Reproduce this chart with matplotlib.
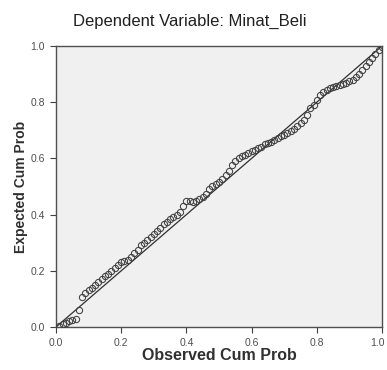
import matplotlib
matplotlib.use("Agg")
from matplotlib import pyplot as plt
from matplotlib import transforms

# P-P plot of regression standardized residuals
observed_cum_prob = [
    0.01, 0.02, 0.03, 0.04, 0.05, 0.06, 0.07, 0.08, 0.09, 0.10,
    0.11, 0.12, 0.13, 0.14, 0.15, 0.16, 0.17, 0.18, 0.19, 0.20,
    0.21, 0.22, 0.23, 0.24, 0.25, 0.26, 0.27, 0.28, 0.29, 0.30,
    0.31, 0.32, 0.33, 0.34, 0.35, 0.36, 0.37, 0.38, 0.39, 0.40,
    0.41, 0.42, 0.43, 0.44, 0.45, 0.46, 0.47, 0.48, 0.49, 0.50,
    0.51, 0.52, 0.53, 0.54, 0.55, 0.56, 0.57, 0.58, 0.59, 0.60,
    0.61, 0.62, 0.63, 0.64, 0.65, 0.66, 0.67, 0.68, 0.69, 0.70,
    0.71, 0.72, 0.73, 0.74, 0.75, 0.76, 0.77, 0.78, 0.79, 0.80,
    0.81, 0.82, 0.83, 0.84, 0.85, 0.86, 0.87, 0.88, 0.89, 0.90,
    0.91, 0.92, 0.93, 0.94, 0.95, 0.96, 0.97, 0.98, 0.99, 1.00,
]
expected_cum_prob = [
    0.005, 0.010, 0.015, 0.020, 0.025, 0.030, 0.060, 0.105, 0.120, 0.130,
    0.138, 0.148, 0.160, 0.170, 0.180, 0.188, 0.198, 0.210, 0.222, 0.230,
    0.234, 0.240, 0.250, 0.262, 0.275, 0.292, 0.300, 0.310, 0.320, 0.330,
    0.340, 0.352, 0.365, 0.375, 0.385, 0.392, 0.400, 0.410, 0.430, 0.450,
    0.447, 0.445, 0.448, 0.455, 0.463, 0.475, 0.490, 0.500, 0.508, 0.515,
    0.525, 0.540, 0.555, 0.575, 0.590, 0.600, 0.607, 0.612, 0.618, 0.625,
    0.630, 0.636, 0.642, 0.650, 0.655, 0.660, 0.667, 0.673, 0.678, 0.685,
    0.690, 0.697, 0.705, 0.715, 0.725, 0.735, 0.755, 0.778, 0.790, 0.808,
    0.825, 0.835, 0.843, 0.850, 0.853, 0.857, 0.861, 0.865, 0.870, 0.875,
    0.880, 0.890, 0.902, 0.915, 0.928, 0.942, 0.958, 0.972, 0.985, 0.995,
]
tick_values = [0.0, 0.2, 0.4, 0.6, 0.8, 1.0]
tick_labels = ["0.0", "0.2", "0.4", "0.6", "0.8", "1.0"]

plt.rcParams["font.family"] = ["Liberation Sans", "DejaVu Sans"]

fig = plt.figure(figsize=(3.87, 3.70), dpi=100)
fig.patch.set_facecolor("white")
ax = fig.add_axes([0.1447, 0.1162, 0.8424, 0.7595])
ax.set_facecolor("#f0f0f0")

# reference diagonal
ax.plot([0, 1], [0, 1], color="#303030", lw=0.9, zorder=2)
ax.plot(observed_cum_prob, expected_cum_prob, linestyle="none", marker="o",
        markersize=4.5, markerfacecolor="none", markeredgecolor="#404040",
        markeredgewidth=0.75, zorder=3)

ax.set_xlim(0, 1)
ax.set_ylim(0, 1)
ax.set_xticks(tick_values)
ax.set_xticklabels(tick_labels)
ax.set_yticks(tick_values)
ax.set_yticklabels(tick_labels)
ax.tick_params(direction="out", length=4, width=0.8, color="#404040",
               labelsize=7.5, labelcolor="#505050", pad=4)
for spine in ax.spines.values():
    spine.set_color("#505050")
    spine.set_linewidth(1.0)

# keep the last x tick label inside the figure edge
last = ax.get_xticklabels()[-1]
last.set_transform(last.get_transform() + transforms.ScaledTranslation(-3 / 72, 0, fig.dpi_scale_trans))

ax.set_xlabel("Observed Cum Prob", fontsize=11.5, fontweight="bold",
              color="#303030", labelpad=0)
ax.set_ylabel("Expected Cum Prob", fontsize=10, fontweight="bold",
              color="#303030", labelpad=2)
fig.suptitle("Dependent Variable: Minat_Beli", x=0.49, y=0.963, fontsize=12,
             color="#202020")

fig.savefig("out.png", dpi=100)
